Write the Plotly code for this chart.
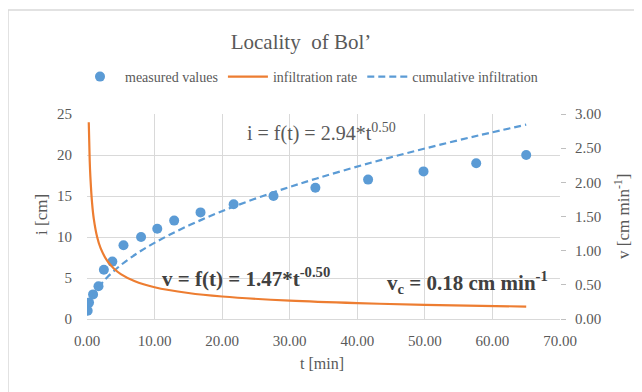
import plotly.graph_objects as go

# measured values
t_meas = [0.1, 0.3, 0.9, 1.7, 2.5, 3.75, 5.4, 8.0, 10.4, 12.9, 16.8, 21.7, 27.6, 33.8, 41.6, 49.8, 57.6, 65.0]
i_meas = [1, 2, 3, 4, 6, 7, 9, 10, 11, 12, 13, 14, 15, 16, 17, 18, 19, 20]

# cumulative infiltration curve
t_cum = [0.25, 0.5, 1, 2, 3, 5, 8, 12, 17, 22, 28, 34, 42, 50, 58, 65]
i_cum = [1.47, 2.08, 2.94, 4.16, 5.09, 6.57, 8.32, 10.18, 12.12, 13.79, 15.56, 17.14, 19.05, 20.79, 22.39, 23.70]

# infiltration rate curve (right axis)
t_rate = [0.26, 0.4, 0.5, 0.75, 1, 1.5, 2, 3, 4, 5, 7, 10, 15, 20, 30, 40, 50, 65]
v_rate = [2.88, 2.32, 2.08, 1.70, 1.47, 1.20, 1.04, 0.849, 0.735, 0.657, 0.556, 0.465, 0.380, 0.329, 0.268, 0.232, 0.208, 0.182]

x_ticks = [0, 10, 20, 30, 40, 50, 60, 70]
x_tick_labels = ["0.00", "10.00", "20.00", "30.00", "40.00", "50.00", "60.00", "70.00"]
y_ticks = [0, 5, 10, 15, 20, 25]
y2_ticks = [0, 0.5, 1, 1.5, 2, 2.5, 3]
y2_tick_labels = ["0.00", "0.50", "1.00", "1.50", "2.00", "2.50", "3.00"]

FONT = "Liberation Serif"
GRAY = "#595959"
DARK = "#404040"
BLUE = "#5B9BD5"
ORANGE = "#ED7D31"
GRID = "#D9D9D9"

OFF = 8  # page body margin offset
L, T = 87 - OFF, 114 - OFF
PW, PH = 473, 205
R, B = 642 - L - PW, 392 - T - PH


def px_x(p):
    # p: target pixel in screenshot
    return (p - OFF - L) / PW


def px_y(p):
    return (T + PH - (p - OFF)) / PH


fig = go.Figure()
fig.add_trace(go.Scatter(x=t_meas, y=i_meas, mode="markers", name="measured values",
                         marker=dict(color=BLUE, size=10), yaxis="y"))
fig.add_trace(go.Scatter(x=t_rate, y=v_rate, mode="lines", name="infiltration rate",
                         line=dict(color=ORANGE, width=2.2, shape="spline"), yaxis="y2"))
fig.add_trace(go.Scatter(x=t_cum, y=i_cum, mode="lines", name="cumulative infiltration",
                         line=dict(color=BLUE, width=2.2, dash="7px,4px", shape="spline"), yaxis="y"))

fig.update_layout(
    width=642, height=392,
    margin=dict(l=L, r=R, t=T, b=B, autoexpand=False),
    paper_bgcolor="white", plot_bgcolor="white",
    font=dict(family=FONT, color=GRAY, size=15),
    title=dict(text="Locality  of Bol’", x=(301 - OFF) / 642, xanchor="center",
               y=1 - (42 - OFF) / 392, yanchor="middle",
               font=dict(family=FONT, size=21, color=GRAY)),
    showlegend=True,
    legend=dict(orientation="h", x=px_x(309), xanchor="center", y=px_y(77), yanchor="middle",
                font=dict(family=FONT, size=14, color=GRAY), bgcolor="rgba(0,0,0,0)",
                itemwidth=40, tracegroupgap=0),
    xaxis=dict(range=[0, 70], tickvals=x_ticks, ticktext=x_tick_labels, showgrid=True,
               gridcolor=GRID, gridwidth=1, zeroline=False, showline=True, linecolor=GRID,
               ticks="", tickfont=dict(size=15, color=GRAY), automargin=False, ticklabelstandoff=8),
    yaxis=dict(range=[0, 25], tickvals=y_ticks, showgrid=True, gridcolor=GRID,
               zeroline=False, showline=False, ticks="", tickfont=dict(size=15, color=GRAY),
               automargin=False, ticklabelstandoff=14),
    yaxis2=dict(range=[0, 3], tickvals=y2_ticks, ticktext=y2_tick_labels, overlaying="y", side="right",
                showgrid=False, zeroline=False, showline=False, ticks="outside", ticklen=5,
                tickcolor="#BFBFBF", tickfont=dict(size=15, color=GRAY), automargin=False,
                ticklabelstandoff=6),
)

# axis titles
fig.add_annotation(x=px_x(322), y=px_y(363), xref="paper", yref="paper", showarrow=False,
                   xanchor="center", yanchor="middle",
                   text="t [min]", font=dict(family=FONT, size=16, color=GRAY))
fig.add_annotation(x=px_x(41), y=px_y(215), xref="paper", yref="paper", showarrow=False,
                   xanchor="center", yanchor="middle",
                   text="i [cm]", textangle=-90, font=dict(family=FONT, size=17, color=GRAY))
fig.add_annotation(x=px_x(622), y=px_y(217), xref="paper", yref="paper", showarrow=False,
                   xanchor="center", yanchor="middle",
                   text="v [cm min<sup>-1</sup>]", textangle=-90, font=dict(family=FONT, size=17, color=GRAY))

# equations
fig.add_annotation(x=34.7, y=22.8, xref="x", yref="y", showarrow=False,
                   text="i = f(t) = 2.94*t<sup>0.50</sup>",
                   font=dict(family=FONT, size=20, color=GRAY))
fig.add_annotation(x=23.6, y=5.1, xref="x", yref="y", showarrow=False,
                   text="<b>v = f(t) = 1.47*t<sup>-0.50</sup></b>",
                   font=dict(family=FONT, size=21, color=DARK))
fig.add_annotation(x=56.3, y=4.4, xref="x", yref="y", showarrow=False,
                   text="<b>v<sub>c</sub> = 0.18 cm min<sup>-1</sup></b>",
                   font=dict(family=FONT, size=21, color=DARK))

# outer chart frame
fig.add_shape(type="rect", xref="paper", yref="paper",
              x0=px_x(8), x1=px_x(660), y0=px_y(410), y1=px_y(10),
              line=dict(color=GRID, width=1.5), fillcolor="rgba(0,0,0,0)", layer="below")

fig.write_html("out.html")
